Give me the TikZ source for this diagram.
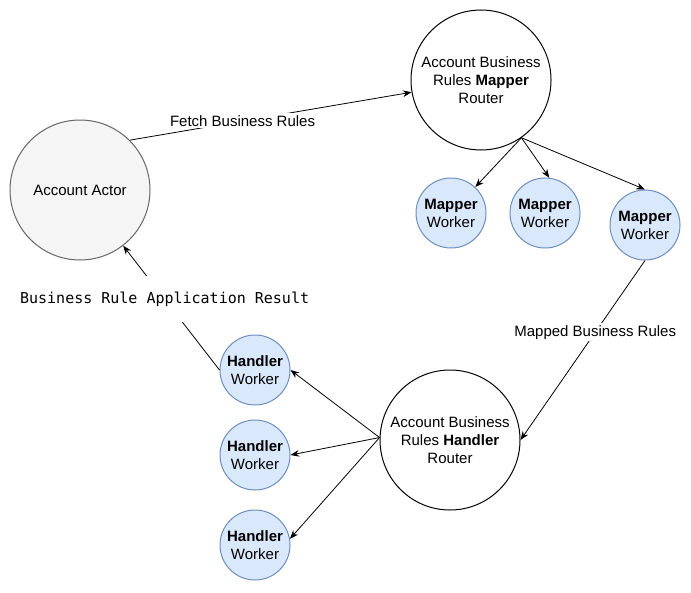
\documentclass[tikz,border=0pt]{standalone}
\usepackage{fontspec}
\setmainfont{Liberation Sans}
\setmonofont{DejaVu Sans Mono}
\usetikzlibrary{shapes.geometric, arrows.meta}

\tikzset{
  actorbox/.style={circle, draw={rgb, 255:red, 102; green, 102; blue, 102}, fill={rgb, 255:red, 245; green, 245; blue, 245}, line width=0.75pt, minimum size=105pt, inner sep=0pt, align=center},
  routerbox/.style={circle, draw, fill=white, line width=0.75pt, minimum size=105pt, inner sep=0pt, align=center},
  workerbox/.style={circle, draw={rgb, 255:red, 108; green, 142; blue, 191}, fill={rgb, 255:red, 218; green, 232; blue, 252}, line width=0.75pt, minimum size=52.5pt, inner sep=0pt, align=center},
  flow/.style={-{Stealth[length=6.5pt,width=5pt]}, line width=0.6pt},
  edgelabel/.style={fill=white, inner sep=1.5pt}
}

\begin{document}
\begin{tikzpicture}[x=0.75pt,y=0.75pt,yscale=-1,font=\fontsize{11.25}{13.5}\selectfont]
\useasboundingbox (0,0) rectangle (691,592);

% Actor
\node [actorbox] (actor) at (80,190) {Account Actor};

% Routers
\node [routerbox] (mrouter) at (481,80) {Account Business\\Rules \textbf{Mapper}\\Router};
\node [routerbox] (hrouter) at (450,440) {Account Business\\Rules \textbf{Handler}\\Router};

% Mapper workers
\node [workerbox] (mworker1) at (451,213) {\textbf{Mapper}\\Worker};
\node [workerbox] (mworker2) at (545,213) {\textbf{Mapper}\\Worker};
\node [workerbox] (mworker3) at (645,225) {\textbf{Mapper}\\Worker};

% Handler workers
\node [workerbox] (hworker1) at (255,370) {\textbf{Handler}\\Worker};
\node [workerbox] (hworker2) at (255,455) {\textbf{Handler}\\Worker};
\node [workerbox] (hworker3) at (255,545) {\textbf{Handler}\\Worker};

% Connectors
\draw [flow] (actor.45) -- node [edgelabel, pos=0.4] {Fetch Business Rules} (mrouter.190);
\draw [flow] (mrouter.-55) -- (mworker1);
\draw [flow] (mrouter.-55) -- (mworker2.83);
\draw [flow] (mrouter.-55) -- (mworker3.north);
\draw [flow] (mworker3.south) -- node [edgelabel, pos=0.4] {Mapped Business Rules} (hrouter.east);
\draw [flow] (hrouter.178) -- (hworker1.east);
\draw [flow] (hrouter.178) -- (hworker2.east);
\draw [flow] (hrouter.178) -- (hworker3.10);
\draw [flow] (hworker1.west) -- node [edgelabel, pos=0.57, inner ysep=12pt] {\ttfamily Business Rule Application Result} (actor);

\end{tikzpicture}
\end{document}
